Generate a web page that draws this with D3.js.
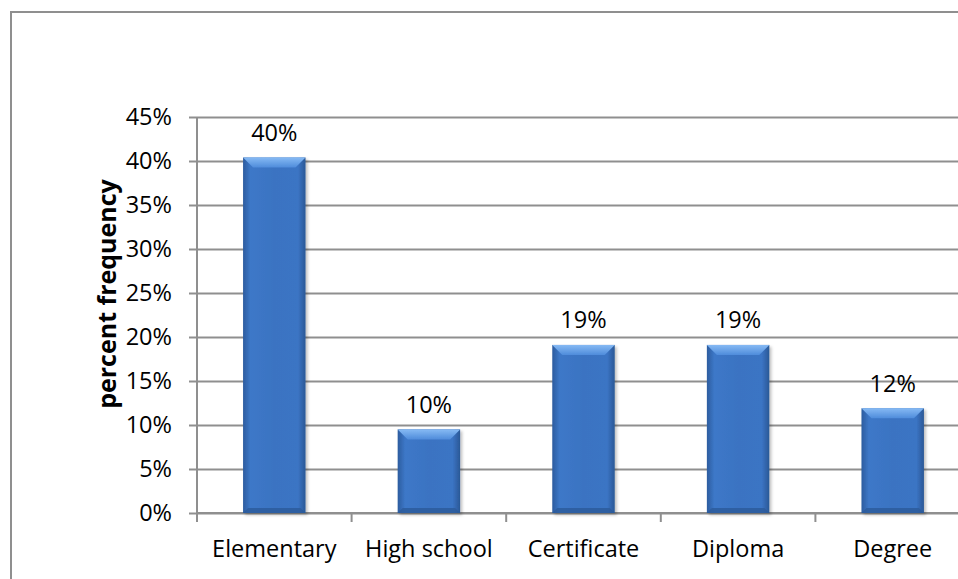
<!DOCTYPE html>
<html>
<head>
<meta charset="utf-8">
<script src="https://cdn.jsdelivr.net/npm/d3@7"></script>
<style>
  body { margin: 0; background: #fff; }
  svg { display: block; font-family: "Open Sans", "Noto Sans", sans-serif; }
</style>
</head>
<body>
<svg id="chart" width="958" height="579"></svg>
<script>
// chart data
var categories = ["Elementary", "High school", "Certificate", "Diploma", "Degree"];
var values = [0.404, 0.095, 0.191, 0.191, 0.119];
var yTicks = [0, 0.05, 0.10, 0.15, 0.20, 0.25, 0.30, 0.35, 0.40, 0.45];
var yTitle = "percent frequency";

var svg = d3.select("#chart");
var gridColor = "#8f8f8f";
var fontSize = 23.5;

// plot area (right side runs past the window, as in the picture)
var plot = { left: 197, right: 970, top: 117, bottom: 513 };

var xOuter = d3.scaleBand()
    .domain(categories)
    .range([plot.left, plot.right])
    .padding(0);
var x = d3.scaleBand()
    .domain(categories)
    .range([plot.left, plot.right])
    .paddingInner(0.596)
    .paddingOuter(0.298);
var y = d3.scaleLinear()
    .domain([0, 0.45])
    .range([plot.bottom, plot.top]);

// outer frame
svg.append("path")
    .attr("d", "M11,579 V12 H958")
    .attr("fill", "none")
    .attr("stroke", gridColor)
    .attr("stroke-width", 2);

// gradients for the bevelled bars
var defs = svg.append("defs");
var side = defs.append("linearGradient").attr("id", "barFace")
    .attr("x1", "0").attr("x2", "1").attr("y1", "0").attr("y2", "0");
side.append("stop").attr("offset", "0%").attr("stop-color", "#2c5c9f");
side.append("stop").attr("offset", "12%").attr("stop-color", "#3d78c8");
side.append("stop").attr("offset", "50%").attr("stop-color", "#3a73c2");
side.append("stop").attr("offset", "88%").attr("stop-color", "#3b74c4");
side.append("stop").attr("offset", "100%").attr("stop-color", "#2a5896");

var topG = defs.append("linearGradient").attr("id", "barTop")
    .attr("x1", "0").attr("x2", "0").attr("y1", "0").attr("y2", "1");
topG.append("stop").attr("offset", "0%").attr("stop-color", "#86baf4");
topG.append("stop").attr("offset", "100%").attr("stop-color", "#4f8cdb");

var shadow = defs.append("filter").attr("id", "shadow")
    .attr("x", "-20%").attr("y", "-20%").attr("width", "140%").attr("height", "140%");
shadow.append("feDropShadow")
    .attr("dx", 2).attr("dy", 2).attr("stdDeviation", 1.5)
    .attr("flood-color", "#000").attr("flood-opacity", 0.25);

// gridlines
svg.append("g")
    .attr("class", "grid")
    .attr("transform", "translate(" + plot.left + ",0)")
    .call(d3.axisLeft(y).tickValues(yTicks).tickSize(-(958 - plot.left)).tickFormat(""))
    .call(g => g.select(".domain").remove())
    .selectAll("line")
    .attr("stroke", gridColor)
    .attr("stroke-width", 2);

// y axis
var yAxis = svg.append("g")
    .attr("transform", "translate(" + plot.left + ",0)")
    .call(d3.axisLeft(y).tickValues(yTicks).tickSize(8).tickPadding(17)
        .tickFormat(d => Math.round(d * 100) + "%"))
    .attr("font-family", null)
    .attr("font-size", fontSize);
yAxis.select(".domain").attr("stroke", gridColor).attr("stroke-width", 2)
    .attr("d", "M0," + y(0) + "V" + y(0.45));
yAxis.selectAll(".tick line").attr("stroke", gridColor).attr("stroke-width", 2);
yAxis.selectAll(".tick text").attr("fill", "#000");

// x axis: ticks at the category boundaries
var xAxis = svg.append("g")
    .attr("transform", "translate(0," + plot.bottom + ")");
xAxis.append("line")
    .attr("x1", plot.left).attr("x2", 958)
    .attr("stroke", gridColor).attr("stroke-width", 2);
xAxis.selectAll(".xtick")
    .data(categories)
    .join("line")
    .attr("class", "xtick")
    .attr("x1", d => xOuter(d)).attr("x2", d => xOuter(d))
    .attr("y1", 0).attr("y2", 9)
    .attr("stroke", gridColor).attr("stroke-width", 2);
xAxis.selectAll(".xlabel")
    .data(categories)
    .join("text")
    .attr("class", "xlabel")
    .attr("x", d => xOuter(d) + xOuter.bandwidth() / 2)
    .attr("y", 44)
    .attr("text-anchor", "middle")
    .attr("font-size", fontSize)
    .attr("fill", "#000")
    .text(d => d);

// bars
var bars = svg.append("g").selectAll("g.bar")
    .data(categories.map((c, i) => ({ cat: c, value: values[i] })))
    .join("g")
    .attr("class", "bar")
    .attr("filter", "url(#shadow)");

var bev = 10;
bars.append("rect")
    .attr("x", d => x(d.cat))
    .attr("y", d => y(d.value))
    .attr("width", x.bandwidth())
    .attr("height", d => y(0) - y(d.value))
    .attr("fill", "url(#barFace)");

// top bevel
bars.append("polygon")
    .attr("points", d => {
        var x0 = x(d.cat), x1 = x0 + x.bandwidth(), t = y(d.value);
        return [[x0, t], [x1, t], [x1 - bev, t + bev], [x0 + bev, t + bev]].join(" ");
    })
    .attr("fill", "url(#barTop)");

// bottom bevel
bars.append("polygon")
    .attr("points", d => {
        var x0 = x(d.cat), x1 = x0 + x.bandwidth(), b = y(0);
        return [[x0, b], [x1, b], [x1 - 5, b - 5], [x0 + 5, b - 5]].join(" ");
    })
    .attr("fill", "#2c5a9a")
    .attr("opacity", 0.8);

// value labels
svg.append("g").selectAll("text")
    .data(categories.map((c, i) => ({ cat: c, value: values[i] })))
    .join("text")
    .attr("x", d => x(d.cat) + x.bandwidth() / 2)
    .attr("y", d => y(d.value) - 25)
    .attr("dy", "0.35em")
    .attr("text-anchor", "middle")
    .attr("font-size", fontSize)
    .attr("fill", "#000")
    .text(d => Math.round(d.value * 100) + "%");

// y axis title
svg.append("text")
    .attr("transform", "translate(107," + ((plot.top + plot.bottom) / 2 - 21) + ") rotate(-90)")
    .attr("dy", "0.35em")
    .attr("text-anchor", "middle")
    .attr("font-size", 25)
    .attr("font-weight", "bold")
    .attr("fill", "#000")
    .text(yTitle);
</script>
</body>
</html>
